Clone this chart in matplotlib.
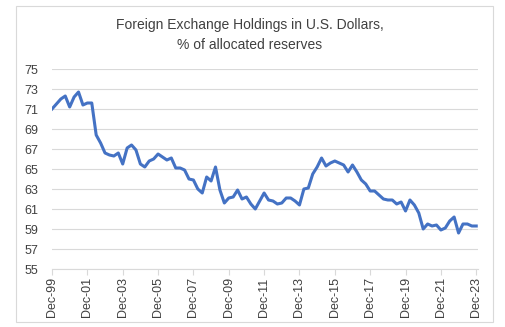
import matplotlib
matplotlib.use("Agg")
import matplotlib.pyplot as plt
from matplotlib.patches import Rectangle
import numpy as np

# USD share of allocated reserves, quarterly, Dec-99 .. Dec-23
usd_share = [
    71.0, 71.5, 72.0, 72.3, 71.2, 72.2, 72.7, 71.4, 71.6, 71.6,
    68.4, 67.6, 66.6, 66.4, 66.3, 66.6, 65.5, 67.1, 67.4, 66.9,
    65.5, 65.2, 65.8, 66.0, 66.5, 66.2, 65.9, 66.1, 65.1, 65.1,
    64.9, 64.0, 63.9, 63.0, 62.6, 64.2, 63.8, 65.2, 62.9, 61.6,
    62.1, 62.2, 62.9, 62.0, 62.2, 61.5, 61.0, 61.8, 62.6, 61.9,
    61.8, 61.5, 61.6, 62.1, 62.1, 61.8, 61.4, 63.0, 63.1, 64.5,
    65.2, 66.1, 65.3, 65.6, 65.8, 65.6, 65.4, 64.7, 65.4, 64.7,
    63.9, 63.5, 62.8, 62.8, 62.4, 62.0, 61.9, 61.9, 61.5, 61.7,
    60.8, 61.9, 61.4, 60.6, 59.0, 59.5, 59.3, 59.4, 58.9, 59.1,
    59.8, 60.2, 58.6, 59.5, 59.5, 59.3, 59.3,
]
tick_labels = ["Dec-99", "Dec-01", "Dec-03", "Dec-05", "Dec-07", "Dec-09",
               "Dec-11", "Dec-13", "Dec-15", "Dec-17", "Dec-19", "Dec-21", "Dec-23"]
y_ticks = [55, 57, 59, 61, 63, 65, 67, 69, 71, 73, 75]

plt.rcParams['font.family'] = ['Liberation Sans', 'DejaVu Sans']

fig = plt.figure(figsize=(5.05, 3.27), dpi=100)
fig.patches.append(Rectangle((16/505, 5/327), 477/505, 316/327, transform=fig.transFigure,
                             facecolor='none', edgecolor='#d9d9d9', lw=0.8))

ax = fig.add_axes([52/505, 1-269/327, 426/505, 200/327])
x = np.arange(len(usd_share))
ax.plot(x, usd_share, color='#4472C4', lw=2.2, solid_joinstyle='round')

ax.set_ylim(55, 75)
ax.set_yticks(y_ticks)
ax.set_xlim(0, 96.4)
ax.set_xticks(np.arange(0, 97, 8))
ax.set_xticklabels(tick_labels, rotation=90)
ax.grid(axis='y', color='#d9d9d9', lw=0.8)
ax.set_axisbelow(True)
for s in ['top', 'right', 'left']:
    ax.spines[s].set_visible(False)
ax.spines['bottom'].set_color('#d9d9d9')
ax.spines['bottom'].set_linewidth(0.8)
ax.tick_params(axis='y', length=0, pad=10, labelsize=9, labelcolor='#404040')
ax.tick_params(axis='x', length=4, width=0.8, color='#d9d9d9', pad=2,
               labelsize=9, labelcolor='#404040')
ax.patch.set_alpha(0)

fig.text(250/505, 1-25/327, "Foreign Exchange Holdings in U.S. Dollars,", ha='center', va='center',
         fontsize=10, color='#404040')
fig.text(250/505, 1-45/327, "% of allocated reserves", ha='center', va='center',
         fontsize=10, color='#404040')

fig.savefig("out.png", dpi=100)
